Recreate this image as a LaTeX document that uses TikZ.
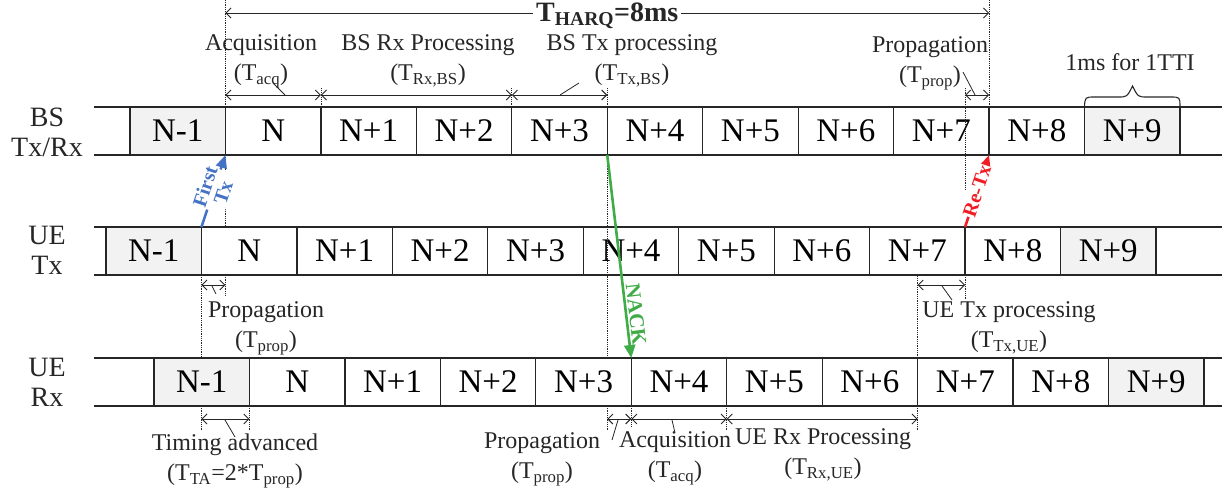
\documentclass[tikz,border=0pt]{standalone}
\usepackage{fontspec}
\setmainfont{Liberation Serif}
\usetikzlibrary{arrows.meta}
\definecolor{cellgray}{RGB}{242,242,243}
\definecolor{linegray}{RGB}{38,38,38}
\definecolor{ftblue}{RGB}{68,114,196}
\definecolor{nackgreen}{RGB}{64,172,72}
\definecolor{retxred}{RGB}{240,30,36}
\begin{document}
\begin{tikzpicture}[x=1pt,y=-1pt,
  cell/.style={draw=linegray, line width=1.2pt, minimum width=95.45pt, minimum height=48pt,
    inner sep=0pt, outer sep=0pt, anchor=north west, font=\fontsize{33}{33}\selectfont},
  rowline/.style={draw=linegray, line width=2pt},
  guide/.style={densely dotted, line width=0.8pt, draw=linegray},
  dim/.style={{Straight Barb[length=5pt,width=10pt]}-{Straight Barb[length=5pt,width=10pt]}, line width=0.9pt, draw=linegray},
  lbl/.style={font=\fontsize{24}{30}\selectfont, align=center, inner sep=0pt, text=linegray},
  rowlbl/.style={font=\fontsize{28}{30}\selectfont, align=center, inner sep=0pt, text=linegray},
  leader/.style={line width=0.8pt, draw=linegray},
  rotlbl/.style={sloped, font=\bfseries\fontsize{20}{19}\selectfont, align=center, inner sep=0.5pt},
  colarrow/.style={line width=2.6pt, -{Triangle[length=13pt,width=11pt]}}
]
\useasboundingbox (0,0) rectangle (1225,496);

% ---- rows of cells ----
\foreach \r/\y/\x in {b/107/130,t/227/106,r/358/154}{
  \foreach \i/\t in {0/N-1,1/N,2/N+1,3/N+2,4/N+3,5/N+4,6/N+5,7/N+6,8/N+7,9/N+8,10/N+9}{
    \ifnum\i=0 \def\cf{cellgray}\else\ifnum\i=10 \def\cf{cellgray}\else\def\cf{white}\fi\fi
    \node[cell, fill=\cf] (\r\i) at ({\x+\i*95.45},\y) {\t};
  }
  \draw[rowline] (94,\y) -- (1222,\y);
  \draw[rowline] (94,{\y+48}) -- (1222,{\y+48});
}

% ---- row labels ----
\node[rowlbl] (lbs) at (47,132) {BS\\Tx/Rx};
\node[rowlbl] (lut) at (47,250) {UE\\Tx};
\node[rowlbl] (lur) at (47,382) {UE\\Rx};

% ---- dotted guides ----
\draw[guide] (b1.north west) -- (b1.north west |- 0,0);
\draw[guide] (b1.south west) -- (b1.south west |- t1.north);
\draw[guide] (b1.south west |- t1.south) -- (b1.south west |- 0,295);
\draw[guide] (b2.north west) -- (b2.north west |- 0,88);
\draw[guide] (b4.north west) -- (b4.north west |- 0,88);
\draw[guide] (b5.north west) -- (b5.north west |- 0,88);
\draw[guide] (b5.south west) -- (b5.south west |- r5.north);
\draw[guide] (b5.south west |- r5.south) -- (b5.south west |- 0,430);
\draw[guide] (t9.north west |- 0,88) -- (t9.north west |- 0,190);
\draw[guide] (t9.south west) -- (t9.south west |- 0,300);
\draw[guide] (b9.north west) -- (b9.north west |- 0,0);
\draw[guide] (t1.south west) -- (t1.south west |- r1.north);
\draw[guide] (t1.south west |- r1.south) -- (t1.south west |- 0,430);
\draw[guide] (r1.south west) -- (r1.south west |- 0,430);
\draw[guide] (r5.south west) -- (r5.south west |- 0,426);
\draw[guide] (r6.south west) -- (r6.south west |- 0,430);
\draw[guide] (r8.north west) -- (r8.north west |- t8.south);
\draw[guide] (r8.south west) -- (r8.south west |- 0,430);

% ---- T_HARQ ----
\draw[dim] (b1.north west |- 0,13) -- node[fill=white, inner sep=3pt, text=linegray, yshift=-3pt,
  font=\bfseries\fontsize{28}{30}\selectfont] (harq) {T\textsubscript{HARQ}=8ms} (b9.north west |- 0,13);

% ---- top dimension arrows ----
\draw[dim] (b1.north west |- 0,95) -- (b2.north west |- 0,95);
\draw[dim] (b2.north west |- 0,95) -- (b4.north west |- 0,95);
\draw[dim] (b4.north west |- 0,95) -- (b5.north west |- 0,95);
\draw[dim] (t9.north west |- 0,95) -- (b9.north west |- 0,95);
\node[lbl] (lacq) at (261,61) {Acquisition\\(T\textsubscript{acq})};
\node[lbl] (lbsrx) at (428,61) {BS Rx Processing\\(T\textsubscript{Rx,BS})};
\node[lbl] (lbstx) at (632,61) {BS Tx processing\\(T\textsubscript{Tx,BS})};
\node[lbl] (lprop1) at (930,63) {Propagation\\(T\textsubscript{prop})};
\node[lbl] (ltti) at (1130,62) {1ms for 1TTI};
\draw[leader] (273,83) -- (285,95);
\draw[leader] (579,83) -- (560,95);
\draw[leader] (963,72) -- (975,95);
% brace
\draw[line width=1.1pt, draw=linegray] (b10.north west) .. controls (1085,97) .. (1095,97) -- (1118,97)
  .. controls (1127,97) .. (1132.5,86) .. controls (1138,97) .. (1147,97) -- (1170,97)
  .. controls (1180,97) .. (b10.north east);

% ---- below UE Tx ----
\draw[dim] (t1.south west |- 0,285) -- (b1.south west |- 0,285);
\draw[dim] (r8.north west |- 0,285) -- (t9.south west |- 0,285);
\draw[leader] (212,286) -- (216,294);
\draw[leader] (942,286) -- (952,300);
\node[lbl] (lprop2) at (266,328) {Propagation\\(T\textsubscript{prop})};
\node[lbl] (ltxue) at (1009,328) {UE Tx processing\\(T\textsubscript{Tx,UE})};

% ---- below UE Rx ----
\draw[dim] (t1.south west |- 0,419) -- (r1.south west |- 0,419);
\draw[dim] (b5.south west |- 0,419) -- (r5.south west |- 0,419);
\draw[dim] (r5.south west |- 0,419) -- (r6.south west |- 0,419);
\draw[dim] (r6.south west |- 0,419) -- (r8.south west |- 0,419);
\draw[leader] (225,420) -- (235,437);
\draw[leader] (618,420) -- (612,440);
\draw[leader] (672,420) -- (675,433);
\node[lbl] (lta) at (235,461) {Timing advanced\\(T\textsubscript{TA}=2*T\textsubscript{prop})};
\node[lbl] (lprop3) at (542,459) {Propagation\\(T\textsubscript{prop})};
\node[lbl] (lacq2) at (675,458) {Acquisition\\(T\textsubscript{acq})};
\node[lbl] (lrxue) at (823,455) {UE Rx Processing\\(T\textsubscript{Rx,UE})};

% ---- coloured arrows ----
\draw[colarrow, draw=ftblue, fill=ftblue] (t1.north west) -- node[rotlbl, text=ftblue, pos=0.52, fill=white] (ftx) {First\\Tx} (b1.south west);
\draw[colarrow, draw=retxred, fill=retxred] (t9.north west) -- node[rotlbl, text=retxred, pos=0.5, fill=white] (rtx) {Re-Tx} (b9.south west);
\draw[colarrow, draw=nackgreen, fill=nackgreen] (b5.south west) -- node[rotlbl, text=nackgreen, pos=0.79, above=1pt, font=\bfseries\fontsize{21}{21}\selectfont] (nack) {NACK} (r5.north west);
\end{tikzpicture}
\end{document}
